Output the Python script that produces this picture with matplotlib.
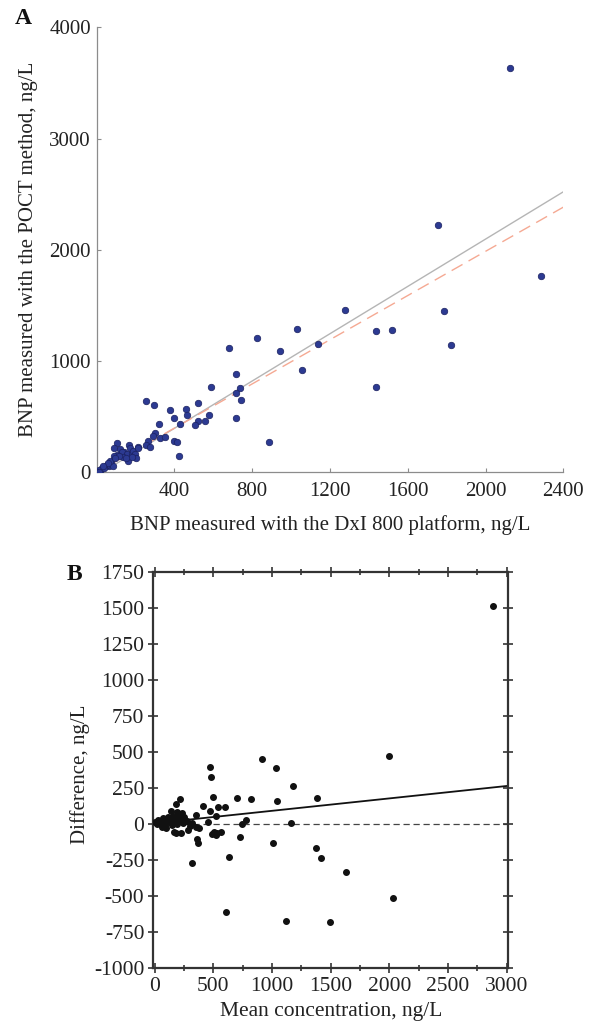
import matplotlib
matplotlib.use("Agg")
import matplotlib.pyplot as plt
from matplotlib.ticker import MultipleLocator
import numpy as np

plt.rcParams['font.family'] = ['Liberation Serif', 'DejaVu Serif']
plt.rcParams['axes.unicode_minus'] = False

# ---------------- Panel A data: DxI 800 (x) vs POCT (y), ng/L ----------------
a_dxi = [2128, 1754, 2286, 1279, 1785, 1030, 1435, 1517, 827, 1823, 1140, 680, 941,
         1054, 719, 1435, 587, 738, 716, 743, 254, 520, 294, 378, 459, 464, 580, 400,
         716, 555, 521, 507, 429, 320, 302, 292, 325, 354, 400, 414, 889, 423, 265,
         254, 277, 213,
         103, 88, 120, 168, 172, 143, 129, 107, 91, 155, 181, 189, 198, 201, 163, 181,
         134, 117, 74, 65, 52, 40, 26, 14, 1, 83, 19, 40, 10, 69, 57, 34, 95, 151, 211]
a_poct = [3635, 2225, 1767, 1458, 1446, 1290, 1270, 1282, 1207, 1144, 1150, 1114, 1090,
          922, 883, 764, 764, 755, 712, 650, 638, 625, 602, 563, 569, 518, 515, 485,
          488, 464, 458, 428, 434, 437, 350, 323, 305, 320, 284, 275, 272, 146, 281,
          245, 230, 225,
          266, 221, 209, 248, 221, 185, 180, 158, 149, 164, 176, 194, 164, 128, 104, 140,
          140, 149, 90, 59, 66, 50, 36, 21, 5, 54, 5, 36, 3, 102, 81, 59, 131, 126, 221]
# regression (solid) and reference (dashed) lines: slope, intercept
a_fit = (1.063, -30.0)
a_ref = (0.993, 0.0)

# ---------------- Panel B data: Bland-Altman ----------------
b_mean = [2886, 2000, 917, 1037, 469, 480, 1179, 500, 701, 824, 1385, 1040, 213, 182,
          409, 540, 602, 469, 355, 520, 457, 775, 744, 1162, 284, 355, 375, 488, 520,
          565, 534, 724, 363, 366, 1006, 631, 315, 610, 1119, 1494, 1372, 1415, 1628,
          2034,
          136, 187, 230, 159, 116, 73, 31, 0, 45, 88, 130, 173, 201, 230, 244, 273, 187,
          145, 88, 315, 301, 182, 164, 222, 505, 60, 100, 210, 195, 160, 120, 250, 20, 60]
b_diff = [1510, 470, 448, 390, 398, 323, 262, 190, 180, 171, 180, 157, 176, 141,
          127, 118, 116, 92, 60, 58, 17, 28, -2, 10, -38, -23, -30, -70, -78,
          -55, -60, -87, -104, -130, -128, -228, -268, -613, -670, -678, -163, -234, -333,
          -516,
          92, 85, 74, 55, 51, 39, 28, 16, 5, 16, 16, 23, 30, 28, 5, 23, 0,
          -7, -7, 5, -14, -60, -53, -65, -53, -20, -30, 45, 60, 20, 35, 50, 0, 10]
b_fit = (6.0, 0.086)  # intercept, slope
b_yticks = list(range(-1000, 1751, 250))
b_xticks = list(range(0, 3001, 500))

W, H = 589, 1027
fig = plt.figure(figsize=(W / 100, H / 100), dpi=100)

# ---------------- Panel A ----------------
axA = fig.add_axes([96.6 / W, 1 - 472.3 / H, (563.3 - 96.6) / W, (472.3 - 27.3) / H])
axA.scatter(a_dxi, a_poct, s=22, facecolor='#2c3a92', edgecolor='#1b2160',
            linewidths=0.5, zorder=3)
xx = np.array([0, 2400])
axA.plot(xx, a_fit[0] * xx + a_fit[1], color='#b5b5b5', lw=1.0, zorder=2)
axA.plot(xx, a_ref[0] * xx + a_ref[1], color='#f5a993', lw=1.0,
         dashes=(9, 5), zorder=2)
axA.set_xlim(0, 2400)
axA.set_ylim(0, 4000)
axA.set_xticks([400, 800, 1200, 1600, 2000, 2400])
axA.set_yticks([0, 1000, 2000, 3000, 4000])
for s in ['top', 'right']:
    axA.spines[s].set_visible(False)
for s in ['left', 'bottom']:
    axA.spines[s].set_color('#8c8c8c')
    axA.spines[s].set_linewidth(0.9)
axA.tick_params(axis='both', direction='in', length=3, width=0.8, color='#8c8c8c',
                labelsize=15, labelcolor='#222222')
axA.tick_params(axis='x', pad=7)
axA.tick_params(axis='y', pad=4)
axA.set_xlabel('BNP measured with the DxI 800 platform, ng/L', fontsize=15,
               color='#222222', labelpad=10)
axA.set_ylabel('BNP measured with the POCT method, ng/L', fontsize=15,
               color='#222222', labelpad=8)
fig.text(23 / W, 1 - 19 / H, 'A', fontsize=17, fontweight='bold', ha='center',
         va='center', color='#111111')

# ---------------- Panel B ----------------
axB = fig.add_axes([153.3 / W, 1 - 968.3 / H, (508.3 - 153.3) / W, (968.3 - 571.7) / H])
axB.scatter(b_mean, b_diff, s=16, color='#111111', zorder=3)
xb = np.array([0, 3015])
axB.plot(xb, b_fit[0] + b_fit[1] * xb, color='#111111', lw=1.3, zorder=2)
axB.axhline(0, color='#444444', lw=0.9, dashes=(5, 3), zorder=1)
axB.set_xlim(-12, 3015)
axB.set_ylim(-1000, 1750)
axB.set_xticks(b_xticks)
axB.set_yticks(b_yticks)
axB.xaxis.set_minor_locator(MultipleLocator(250))
for s in axB.spines.values():
    s.set_color('#333333')
    s.set_linewidth(1.6)
axB.tick_params(axis='both', which='both', direction='inout', length=7, width=1.2,
                color='#333333', top=True, right=True, labelsize=15.5,
                labelcolor='#222222')
axB.tick_params(axis='x', which='minor', length=5)
axB.tick_params(axis='x', pad=3)
axB.tick_params(axis='y', pad=3)
axB.set_xlabel('Mean concentration, ng/L', fontsize=15.5, color='#222222', labelpad=4)
axB.set_ylabel('Difference, ng/L', fontsize=15, color='#222222')
axB.yaxis.set_label_coords((90 - 153.3) / (508.3 - 153.3), 0.49)
fig.text(74 / W, 1 - 575 / H, 'B', fontsize=17, fontweight='bold', ha='center',
         va='center', color='#111111')

fig.savefig('out.png', dpi=100)
